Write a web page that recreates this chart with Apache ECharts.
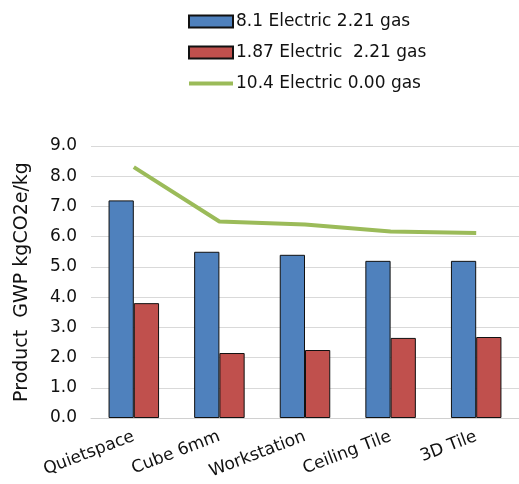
<!DOCTYPE html>
<html><head><meta charset="utf-8">
<script src="https://cdn.jsdelivr.net/npm/echarts@6/dist/echarts.min.js"></script>
<style>html,body{margin:0;padding:0;background:#fff}#c{width:519px;height:484px}</style>
</head><body><div id="c"></div>
<script>
const categories = ['Quietspace', 'Cube 6mm', 'Workstation', 'Ceiling Tile', '3D Tile'];
const seriesNames = ['8.1 Electric 2.21 gas', '1.87 Electric  2.21 gas', '10.4 Electric 0.00 gas'];
const blueValues = [7.2, 5.5, 5.4, 5.2, 5.2];
const redValues = [3.8, 2.15, 2.25, 2.65, 2.68];
const greenValues = [8.3, 6.5, 6.4, 6.17, 6.12];
const yTicks = {min: 0, max: 9, interval: 1};

const font = 'DejaVu Sans, Arial, sans-serif';
const chart = echarts.init(document.getElementById('c'), null, {renderer: 'canvas'});
chart.setOption({
  animation: false,
  textStyle: {fontFamily: font},
  legend: {
    orient: 'vertical', left: 183, top: 8,
    itemWidth: 44, itemHeight: 12, itemGap: 14,
    textStyle: {fontSize: 17, color: '#111', fontFamily: font, padding: [0, 0, 0, -2]},
    data: [
      {name: seriesNames[0], icon: 'rect'},
      {name: seriesNames[1], icon: 'rect'},
      {name: seriesNames[2], icon: 'path://M0,0 L0,0 M0,4 L44,4 L44,8 L0,8 Z M0,12 L0,12'}
    ]
  },
  grid: {left: 91, right: 0, top: 146, bottom: 66},
  xAxis: {
    type: 'category', data: categories,
    axisLine: {lineStyle: {color: '#d0d0d0'}},
    axisTick: {show: false},
    axisLabel: {rotate: 21, fontSize: 17, color: '#111', fontFamily: font, margin: 18, interval: 0}
  },
  yAxis: {
    type: 'value', min: yTicks.min, max: yTicks.max, interval: yTicks.interval,
    name: 'Product  GWP kgCO2e/kg', nameLocation: 'middle', nameGap: 59,
    nameTextStyle: {fontSize: 19, color: '#111', fontFamily: font},
    axisLine: {show: false}, axisTick: {show: false},
    axisLabel: {fontSize: 17, color: '#111', fontFamily: font, margin: 14, formatter: v => v.toFixed(1)},
    splitLine: {lineStyle: {color: '#d9d9d9'}}
  },
  series: [
    {name: seriesNames[0], type: 'bar', data: blueValues, barGap: '0%', barCategoryGap: '41%',
     itemStyle: {color: '#4f81bd', borderColor: '#111', borderWidth: 1}},
    {name: seriesNames[1], type: 'bar', data: redValues,
     itemStyle: {color: '#c0504d', borderColor: '#111', borderWidth: 1}},
    {name: seriesNames[2], type: 'line', data: greenValues, symbol: 'none',
     lineStyle: {color: '#9bbb59', width: 4}, itemStyle: {color: '#9bbb59'}}
  ]
});
</script></body></html>
